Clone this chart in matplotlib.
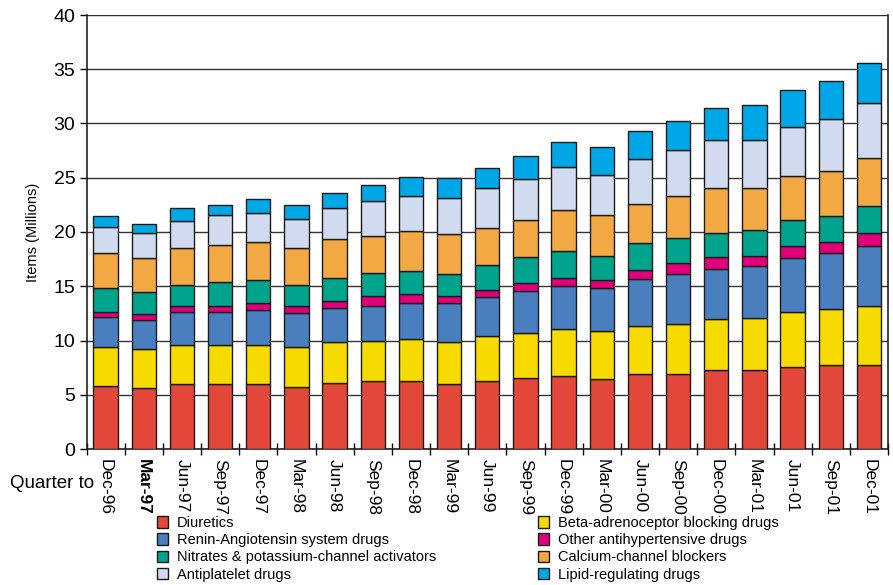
import matplotlib
matplotlib.use("Agg")
import matplotlib.pyplot as plt
import numpy as np

quarters = ["Dec-96", "Mar-97", "Jun-97", "Sep-97", "Dec-97", "Mar-98", "Jun-98",
            "Sep-98", "Dec-98", "Mar-99", "Jun-99", "Sep-99", "Dec-99", "Mar-00",
            "Jun-00", "Sep-00", "Dec-00", "Mar-01", "Jun-01", "Sep-01", "Dec-01"]

diuretics = [5.81, 5.59, 5.99, 5.99, 5.99, 5.74, 6.08, 6.27, 6.27, 5.99, 6.27,
             6.51, 6.73, 6.46, 6.89, 6.89, 7.29, 7.29, 7.53, 7.78, 7.78]
beta_blockers = [3.59, 3.63, 3.60, 3.60, 3.60, 3.66, 3.81, 3.64, 3.85, 3.89, 4.10,
                 4.16, 4.34, 4.42, 4.44, 4.59, 4.65, 4.80, 5.08, 5.08, 5.42]
renin_angiotensin = [2.74, 2.70, 3.04, 3.04, 3.22, 3.10, 3.07, 3.30, 3.37, 3.61, 3.67,
                     3.92, 3.98, 3.96, 4.35, 4.69, 4.69, 4.75, 5.03, 5.20, 5.51]
other_antihyp = [0.52, 0.52, 0.52, 0.52, 0.62, 0.65, 0.71, 0.86, 0.82, 0.58, 0.58,
                 0.70, 0.73, 0.71, 0.85, 1.01, 1.10, 0.92, 1.07, 1.05, 1.22]
nitrates = [2.18, 2.00, 1.93, 2.24, 2.15, 1.93, 2.12, 2.17, 2.14, 2.08, 2.35,
            2.36, 2.48, 2.20, 2.45, 2.29, 2.20, 2.39, 2.36, 2.32, 2.48]
calcium = [3.22, 3.13, 3.45, 3.41, 3.50, 3.48, 3.53, 3.39, 3.67, 3.67, 3.43,
           3.45, 3.79, 3.85, 3.62, 3.86, 4.17, 3.95, 4.10, 4.17, 4.41]
antiplatelet = [2.40, 2.34, 2.48, 2.74, 2.67, 2.67, 2.93, 3.21, 3.18, 3.30, 3.64,
                3.79, 3.94, 3.68, 4.13, 4.20, 4.34, 4.34, 4.47, 4.84, 5.08]
lipid = [0.98, 0.86, 1.23, 0.95, 1.25, 1.26, 1.39, 1.53, 1.75, 1.83, 1.89,
         2.14, 2.31, 2.52, 2.54, 2.72, 3.01, 3.28, 3.49, 3.49, 3.65]

# stacking order bottom -> top
series = [
    ("Diuretics", diuretics, "#E3483A"),
    ("Beta-adrenoceptor blocking drugs", beta_blockers, "#F6DA00"),
    ("Renin-Angiotensin system drugs", renin_angiotensin, "#4A7FBF"),
    ("Other antihypertensive drugs", other_antihyp, "#E1007A"),
    ("Nitrates & potassium-channel activators", nitrates, "#00A38B"),
    ("Calcium-channel blockers", calcium, "#F2A843"),
    ("Antiplatelet drugs", antiplatelet, "#D1DBEF"),
    ("Lipid-regulating drugs", lipid, "#00A7E7"),
]

plt.rcParams['font.family'] = ['Liberation Sans', 'DejaVu Sans']

fig = plt.figure(figsize=(8.93, 5.85), dpi=100)
ax = fig.add_axes([86.5/893, 1 - 449/585, (888 - 86.5)/893, (449 - 15)/585])

x = np.arange(len(quarters))
bottom = np.zeros(len(quarters))
handles = {}
for name, vals, col in series:
    v = np.array(vals)
    b = ax.bar(x, v, bottom=bottom, width=0.635, color=col, edgecolor="#1a1a1a",
               linewidth=1.0, zorder=3, label=name)
    handles[name] = b
    bottom += v

ax.set_ylim(0, 40)
ax.set_xlim(-0.46, 20.44)
ax.set_yticks(np.arange(0, 41, 5))
ax.yaxis.grid(True, color="#333333", linewidth=1.0, zorder=0)
ax.set_axisbelow(True)
ax.tick_params(axis='y', labelsize=14, length=5, width=1, direction='out', pad=3)

ax.set_xticks(x)
ax.set_xticklabels(quarters, rotation=270, fontsize=12.5, va='top', ha='center')
ax.tick_params(axis='x', length=0, pad=7)
for lbl in ax.get_xticklabels():
    if lbl.get_text() == "Mar-97":
        lbl.set_fontweight("bold")
# minor ticks between bars
ax.set_xticks(np.arange(-0.5, 21, 1.0), minor=True)
ax.tick_params(axis='x', which='minor', length=8, width=1, direction='inout')

for s in ["left", "bottom", "right"]:
    ax.spines[s].set_linewidth(1.2)
    ax.spines[s].set_color("#222222")
ax.spines["top"].set_visible(False)

ax.set_ylabel("Items (Millions)", fontsize=10.5, labelpad=10)
fig.text(10/893, 1 - 483/585, "Quarter to", fontsize=13.5, va='center', ha='left')

order = ["Diuretics", "Renin-Angiotensin system drugs",
         "Nitrates & potassium-channel activators", "Antiplatelet drugs",
         "Beta-adrenoceptor blocking drugs", "Other antihypertensive drugs",
         "Calcium-channel blockers", "Lipid-regulating drugs"]
leg = fig.legend([handles[n] for n in order], order, ncol=2, loc='upper left',
                 bbox_to_anchor=(157/893, 1 - 516/585), frameon=False,
                 fontsize=10.5, handlelength=0.75, handleheight=0.85,
                 handletextpad=0.6, labelspacing=0.22, columnspacing=7.0,
                 borderaxespad=0, borderpad=0)

fig.savefig("out.png", dpi=100)
